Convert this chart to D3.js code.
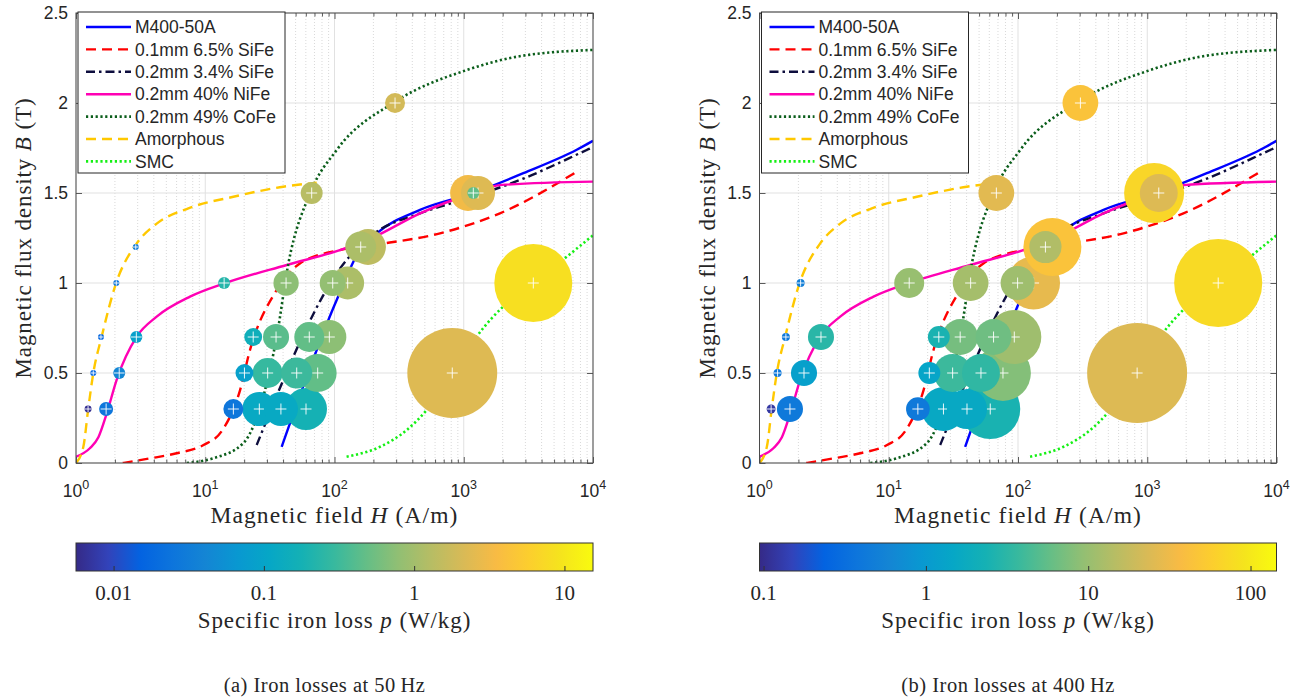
<!DOCTYPE html>
<html>
<head>
<meta charset="utf-8">
<script src="https://cdn.jsdelivr.net/npm/d3@7"></script>
<style>
  body { margin: 0; background: #fff; }
  svg { display: block; }
  .sans { font-family: 'Liberation Sans', Arial, sans-serif; fill: #262626; }
  .serif { font-family: 'Liberation Serif', 'Times New Roman', serif; fill: #262626; }
</style>
</head>
<body>
<script>
// ---------- data ----------
const materials = ['M400-50A', '0.1mm 6.5% SiFe', '0.2mm 3.4% SiFe', '0.2mm 40% NiFe',
  '0.2mm 49% CoFe', 'Amorphous', 'SMC'];

// B-H curves, [H (A/m), B (T)]
const bhM400 = [[39, 0.09], [104, 0.906], [157, 1.183], [212, 1.276], [459, 1.406],
  [1186, 1.50], [2891, 1.61], [7480, 1.74], [10000, 1.79]];
const bhSiFe65 = [[2.3, 0], [3.7, 0.025], [6.0, 0.054], [9.7, 0.10], [13.5, 0.18], [18.6, 0.405],
  [22.2, 0.628], [35.7, 0.961], [54, 1.109], [110, 1.183], [200, 1.211], [655, 1.276],
  [1906, 1.387], [7480, 1.618]];
const bhSiFe34 = [[25, 0.10], [124, 1.128], [200, 1.272], [459, 1.387], [1186, 1.48],
  [2891, 1.58], [8940, 1.739], [10000, 1.755]];
const bhNiFe = [[1, 0.035], [1.28, 0.082], [1.49, 0.143], [1.73, 0.276], [2.06, 0.461],
  [2.95, 0.702], [4.21, 0.813], [7.62, 0.924], [14.1, 0.998], [42.7, 1.10], [110, 1.183],
  [200, 1.254], [459, 1.387], [1186, 1.50], [1906, 1.544], [10000, 1.563]];
const bhCoFe = [[7.2, 0], [11.5, 0.026], [19.7, 0.11], [29.9, 0.443], [35.7, 0.70], [44, 1.109],
  [64.6, 1.498], [104, 1.739], [294, 2.007], [1054, 2.183], [2570, 2.257], [10000, 2.295]];
const bhAmorphous = [[1, 0], [1.14, 0.09], [1.24, 0.294], [1.36, 0.498], [1.58, 0.702],
  [2.04, 0.998], [2.95, 1.22], [4.21, 1.33], [7.4, 1.415], [16.5, 1.479], [40.2, 1.535], [72.8, 1.557]];
const bhSMC = [[124, 0.035], [225, 0.09], [362, 0.183], [517, 0.294], [830, 0.498], [1259, 0.702],
  [2148, 0.887], [3453, 0.998], [6266, 1.146], [10000, 1.265]];
const bhCurves = [bhM400, bhSiFe65, bhSiFe34, bhNiFe, bhCoFe, bhAmorphous, bhSMC];

// measured losses: [material, H (A/m), B (T), p (W/kg), marker size (relative)]
const loss50 = [
  [0, 60.2, 0.3, 0.178, 44], [0, 74.1, 0.5, 0.47, 36], [0, 91.2, 0.7, 0.755, 29],
  [0, 126.5, 1.0, 1.13, 27], [0, 181.7, 1.2, 1.43, 32], [0, 1079, 1.5, 3.19, 32],
  [1, 16.5, 0.3, 0.026, 10], [1, 20.1, 0.5, 0.087, 8], [1, 23.5, 0.7, 0.152, 8],
  [2, 38.5, 0.3, 0.119, 29], [2, 51, 0.5, 0.31, 24], [2, 63.8, 0.7, 0.47, 22.5],
  [2, 96.9, 1.0, 0.82, 17], [2, 159.5, 1.2, 1.13, 24], [2, 1289, 1.5, 2.32, 29],
  [3, 1.71, 0.3, 0.026, 4.9], [3, 2.16, 0.5, 0.042, 3.6], [3, 2.93, 0.7, 0.087, 3.6],
  [3, 14.0, 1.0, 0.227, 3.6], [3, 1186, 1.5, 0.47, 3.6],
  [4, 26.2, 0.3, 0.119, 29], [4, 30.4, 0.5, 0.288, 22.5], [4, 35.3, 0.7, 0.43, 17],
  [4, 42.2, 1.0, 0.755, 16], [4, 66.6, 1.5, 1.32, 12], [4, 294, 2.0, 1.97, 10],
  [5, 1.24, 0.3, 0.0062, 1.2], [5, 1.36, 0.5, 0.0175, 0.9], [5, 1.56, 0.7, 0.0175, 0.9],
  [5, 2.05, 1.0, 0.026, 0.9], [5, 2.90, 1.2, 0.03, 0.9],
  [6, 815, 0.5, 2.32, 202], [6, 3453, 1.0, 8.35, 152]
];
const loss400 = [
  [0, 61, 0.3, 2.47, 90], [0, 76.5, 0.5, 8.05, 78], [0, 93.6, 0.7, 10.8, 73],
  [0, 132, 1.0, 28.3, 70], [0, 184.5, 1.2, 44, 84], [0, 1130, 1.5, 68.7, 90],
  [1, 16.8, 0.3, 0.419, 14], [1, 20.6, 0.5, 1.37, 12], [1, 24.4, 0.7, 2.47, 12],
  [2, 40.3, 0.3, 1.58, 40], [2, 51.7, 0.5, 3.32, 36], [2, 64.7, 0.7, 6.45, 32],
  [2, 99.3, 1.0, 10.8, 29], [2, 163, 1.2, 13.5, 26], [2, 1228, 1.5, 24.4, 36],
  [3, 1.72, 0.3, 0.419, 17], [3, 2.21, 0.5, 1.18, 17], [3, 2.99, 0.7, 3.08, 17],
  [3, 14.4, 1.0, 10.0, 22.5],
  [4, 26.5, 0.3, 1.58, 48], [4, 31.2, 0.5, 3.85, 36], [4, 35.7, 0.7, 6.95, 32],
  [4, 43, 1.0, 11.7, 32], [4, 68, 1.5, 26.3, 32], [4, 304, 2.0, 44, 32],
  [5, 1.23, 0.3, 0.119, 2], [5, 1.38, 0.5, 0.419, 1.6], [5, 1.6, 0.7, 0.419, 1.6],
  [5, 2.08, 1.0, 0.485, 1.6],
  [6, 835, 0.5, 24.4, 250], [6, 3540, 1.0, 74, 194]
];

const yTicks = [0, 0.5, 1, 1.5, 2, 2.5];
const xDecades = [1, 10, 100, 1000, 10000];
const pRange50 = [Math.pow(10, -2.25), Math.pow(10, 1.19)];
const pRange400 = [Math.pow(10, -1.025), Math.pow(10, 2.16)];
const pTicks50 = [0.01, 0.1, 1, 10];
const pTicks400 = [0.1, 1, 10, 100];
const frequencies = ['50', '400'];

// ---------- styles ----------
const lineColors = ['#0000ff', '#ff0000', '#0d0d3d', '#ff00b4', '#0b5e1b', '#ffc800', '#14f014'];
const lineDash = [null, '10,6', '9,4,2.5,4', null, '2.2,2.6', '10,6', '2.2,2.6'];
const drawOrder = [0, 4, 2, 1, 3, 5, 6];
const parulaStops = ['#352a87', '#3243ba', '#0363e1', '#0d75dc', '#1485d4', '#0998d1', '#06a7c6',
  '#15b1b4', '#38b99e', '#65be86', '#92bf73', '#b7bd64', '#d9ba56', '#f8bb44', '#fcce2e',
  '#f5e41d', '#f9fb0e'];

const parula = d3.scaleLinear()
  .domain(parulaStops.map((c, k) => k / (parulaStops.length - 1)))
  .range(parulaStops)
  .interpolate(d3.interpolateRgb)
  .clamp(true);

const width = 1310;
const height = 700;
const plotW = 517;
const plotTop = 13;
const plotBottom = 463;
const axisColor = '#4a4a4a';

const svg = d3.select('body').append('svg').attr('width', width).attr('height', height);

const sizeScale = d3.scaleSqrt().domain([0, 250]).range([0, 50]);

function panel(idx, left, losses, pRange, pTicks, freq) {
  const right = left + plotW;
  const x = d3.scaleLog().domain([1, 1e4]).range([left, right]);
  const y = d3.scaleLinear().domain([0, 2.5]).range([plotBottom, plotTop]);
  const pScale = d3.scaleLog().domain(pRange).range([0, 1]).clamp(true);
  const minor = x.ticks().filter((d) => !xDecades.includes(d));

  const g = svg.append('g');

  g.append('clipPath').attr('id', `clip-${idx}`)
    .append('rect').attr('x', left).attr('y', plotTop).attr('width', plotW).attr('height', plotBottom - plotTop);

  // grid
  g.append('g').selectAll('line').data(minor).enter().append('line')
    .attr('x1', (d) => x(d)).attr('x2', (d) => x(d))
    .attr('y1', plotTop).attr('y2', plotBottom)
    .attr('stroke', '#cfcfcf').attr('stroke-width', 0.8).attr('stroke-dasharray', '1,2');
  g.append('g').selectAll('line').data(xDecades).enter().append('line')
    .attr('x1', (d) => x(d)).attr('x2', (d) => x(d))
    .attr('y1', plotTop).attr('y2', plotBottom)
    .attr('stroke', '#e1e1e1').attr('stroke-width', 1);
  g.append('g').selectAll('line').data(yTicks).enter().append('line')
    .attr('x1', left).attr('x2', right)
    .attr('y1', (d) => y(d)).attr('y2', (d) => y(d))
    .attr('stroke', '#e1e1e1').attr('stroke-width', 1);

  // B-H curves
  const line = d3.line().x((d) => x(d[0])).y((d) => y(d[1])).curve(d3.curveMonotoneX);
  const curves = g.append('g').attr('clip-path', `url(#clip-${idx})`);
  bhCurves.forEach((c, k) => {
    curves.append('path').datum(c)
      .attr('d', line)
      .attr('fill', 'none')
      .attr('stroke', lineColors[k])
      .attr('stroke-width', k === 4 || k === 6 ? 2.6 : 2.4)
      .attr('stroke-dasharray', lineDash[k]);
  });

  // loss bubbles
  const rows = losses.slice().sort((a, b) => drawOrder.indexOf(a[0]) - drawOrder.indexOf(b[0]));
  const bubbles = g.append('g').attr('clip-path', `url(#clip-${idx})`)
    .selectAll('g').data(rows).enter().append('g')
    .attr('transform', (d) => `translate(${x(d[1])},${y(d[2])})`);
  bubbles.append('circle')
    .attr('r', (d) => sizeScale(d[4]))
    .attr('fill', (d) => parula(pScale(d[3])));
  bubbles.append('path')
    .attr('d', (d) => {
      const h = Math.min(5.5, sizeScale(d[4]) * 0.9);
      return `M${-h},0H${h}M0,${-h}V${h}`;
    })
    .attr('stroke', '#fff').attr('stroke-opacity', 0.9).attr('stroke-width', 1);

  // axes (ticks inside, box)
  const xb = g.append('g').attr('transform', `translate(0,${plotBottom})`);
  xb.call(d3.axisBottom(x).tickValues(xDecades).tickSize(-6).tickFormat(''));
  xb.append('g').call(d3.axisBottom(x).tickValues(minor).tickSize(-3.5).tickFormat(''));
  const xt = g.append('g').attr('transform', `translate(0,${plotTop})`);
  xt.call(d3.axisTop(x).tickValues(xDecades).tickSize(-6).tickFormat(''));
  xt.append('g').call(d3.axisTop(x).tickValues(minor).tickSize(-3.5).tickFormat(''));
  const yl = g.append('g').attr('transform', `translate(${left},0)`)
    .call(d3.axisLeft(y).tickValues(yTicks).tickSize(-6).tickPadding(8).tickFormat(d3.format('~g')));
  g.append('g').attr('transform', `translate(${right},0)`)
    .call(d3.axisRight(y).tickValues(yTicks).tickSize(-6).tickFormat(''));
  g.selectAll('.domain').remove();
  g.selectAll('.tick line').attr('stroke', axisColor).attr('stroke-width', 0.9);
  yl.selectAll('.tick text').attr('class', 'sans').attr('font-size', 17.5).attr('font-family', null);
  g.append('rect').attr('x', left).attr('y', plotTop).attr('width', plotW).attr('height', plotBottom - plotTop)
    .attr('fill', 'none').attr('stroke', axisColor).attr('stroke-width', 1);

  // x tick labels 10^n
  const xl = g.append('g').selectAll('text').data(xDecades).enter().append('text')
    .attr('class', 'sans').attr('font-size', 17.5).attr('text-anchor', 'middle')
    .attr('x', (d) => x(d)).attr('y', 497);
  xl.append('tspan').text('10');
  xl.append('tspan').attr('dy', -8).attr('font-size', 12.5).text((d) => Math.round(Math.log10(d)));

  // axis titles
  const xlab = g.append('text').attr('class', 'serif').attr('font-size', 23.5)
    .attr('letter-spacing', 1.1).attr('text-anchor', 'middle')
    .attr('x', (left + right) / 2).attr('y', 523);
  xlab.append('tspan').text('Magnetic field ');
  xlab.append('tspan').attr('font-style', 'italic').text('H');
  xlab.append('tspan').text(' (A/m)');

  const ylab = g.append('text').attr('class', 'serif').attr('font-size', 23)
    .attr('letter-spacing', 0.9).attr('text-anchor', 'middle')
    .attr('transform', `translate(${left - 53},${(plotTop + plotBottom) / 2}) rotate(-90)`)
    .attr('dy', '0.35em');
  ylab.append('tspan').text('Magnetic flux density ');
  ylab.append('tspan').attr('font-style', 'italic').text('B');
  ylab.append('tspan').text(' (T)');

  // legend
  const lg = g.append('g').attr('transform', `translate(${left + 2},${plotTop - 1})`);
  lg.append('rect').attr('width', 207).attr('height', 161)
    .attr('fill', '#fff').attr('stroke', '#262626').attr('stroke-width', 1);
  materials.forEach((m, k) => {
    const ry = 15 + k * 22.4;
    lg.append('line').attr('x1', 8).attr('x2', 53).attr('y1', ry).attr('y2', ry)
      .attr('stroke', lineColors[k]).attr('stroke-width', k === 4 || k === 6 ? 2.6 : 2.4)
      .attr('stroke-dasharray', lineDash[k]);
    lg.append('text').attr('class', 'sans').attr('font-size', 17.5)
      .attr('x', 57).attr('y', ry).attr('dy', '0.35em').text(m);
  });

  // colorbar
  const cbTop = 543;
  const cbH = 28;
  const cx = d3.scaleLog().domain(pRange).range([left, right]);
  const grad = svg.append('defs').append('linearGradient').attr('id', `parula-${idx}`)
    .attr('x1', 0).attr('x2', 1).attr('y1', 0).attr('y2', 0);
  parulaStops.forEach((c, k) => {
    grad.append('stop').attr('offset', k / (parulaStops.length - 1)).attr('stop-color', c);
  });
  g.append('rect').attr('x', left).attr('y', cbTop).attr('width', plotW).attr('height', cbH)
    .attr('fill', `url(#parula-${idx})`).attr('stroke', '#333').attr('stroke-width', 1);
  g.append('g').attr('transform', `translate(0,${cbTop + cbH})`)
    .call(d3.axisBottom(cx).tickValues(pTicks).tickSize(-5).tickFormat(''))
    .call((a) => a.select('.domain').remove())
    .selectAll('.tick line').attr('stroke', '#333');
  g.append('g').selectAll('text').data(pTicks).enter().append('text')
    .attr('class', 'serif').attr('font-size', 21).attr('text-anchor', 'middle')
    .attr('x', (d) => cx(d)).attr('y', 600).text((d) => d3.format('~g')(d));
  const cbl = g.append('text').attr('class', 'serif').attr('font-size', 23)
    .attr('letter-spacing', 0.9).attr('text-anchor', 'middle')
    .attr('x', (left + right) / 2).attr('y', 628);
  cbl.append('tspan').text('Specific iron loss ');
  cbl.append('tspan').attr('font-style', 'italic').text('p');
  cbl.append('tspan').text(' (W/kg)');

  // caption
  g.append('text').attr('class', 'serif').attr('font-size', 20.5)
    .attr('letter-spacing', 0.5).attr('text-anchor', 'middle')
    .attr('x', left + plotW / 2 - 10).attr('y', 692)
    .text(`(${idx === 0 ? 'a' : 'b'}) Iron losses at ${freq}\u2009Hz`);
}

panel(0, 76, loss50, pRange50, pTicks50, frequencies[0]);
panel(1, 759.5, loss400, pRange400, pTicks400, frequencies[1]);
</script>
</body>
</html>
